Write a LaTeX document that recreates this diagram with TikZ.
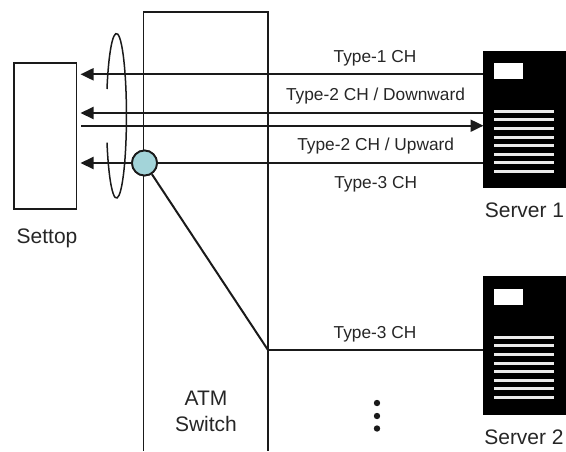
\documentclass[tikz,border=0pt]{standalone}
\usepackage{fontspec}
\setmainfont{Liberation Sans}
\usetikzlibrary{arrows.meta,calc}
\definecolor{ink}{HTML}{1A1A1A}
\definecolor{txt}{HTML}{262626}
\definecolor{hubfill}{HTML}{A3D4D9}
\tikzset{
  px/.style={x=1pt,y=-1pt},
  box/.style={draw=ink,line width=1.8pt,fill=white,inner sep=0pt,outer sep=0pt,minimum width=#1},
  wire/.style={draw=ink,line width=2pt},
  tipped/.style={wire,-{Triangle[length=13pt,width=12pt]},shorten >=-0.5pt},
  chlabel/.style={anchor=base,text=txt,font=\fontsize{17.3}{20}\selectfont,inner sep=0pt},
  biglabel/.style={anchor=base,text=txt,font=\fontsize{21}{24}\selectfont,inner sep=0pt},
  srv/.style={fill=black,inner sep=0pt,outer sep=0pt,minimum width=83pt,minimum height=#1},
  winbar/.style={fill=white,inner sep=0pt,outer sep=0pt,minimum width=29pt,minimum height=16pt},
  slat/.style={fill=white!92!black,inner sep=0pt,outer sep=0pt,minimum width=60pt,minimum height=3pt},
  hubdot/.style={circle,draw=ink,line width=1.8pt,fill=hubfill,inner sep=0pt,minimum size=25pt},
  pdot/.style={circle,fill=ink,inner sep=0pt,minimum size=6.4pt},
}
\begin{document}
\begin{tikzpicture}[px]
\useasboundingbox (0,0) rectangle (566,451);
% switch body, open at the foot
\node[inner sep=0pt,outer sep=0pt,minimum width=124.5pt,minimum height=438.5pt] (switch) at (205.75,231.25) {};
\draw[wire,line width=1.8pt] (switch.south west) -- (switch.north west) -- (switch.north east) -- (switch.south east);
% settop
\node[box=62.5pt,minimum height=146pt] (settop) at (45.25,136) {};
% servers
\node[srv=137.5pt] (server1) at (524.5,119.25) {};
\node[srv=139pt] (server2) at (524.5,345.5) {};
\node[winbar] (win1) at (508.5,71) {};
\node[winbar] (win2) at (508.5,297) {};
\foreach \i/\y in {1/111,2/119.7,3/128.3,4/137,5/145.5,6/154.2,7/162.8,8/171.5}
  \node[slat] (sa\i) at (524,\y) {};
\foreach \i/\y in {1/337,2/345.7,3/354.3,4/363,5/371.5,6/380.2,7/388.8,8/397.5}
  \node[slat] (sb\i) at (524,\y) {};
% hub and junction
\node[hubdot] (hub) at (144.5,163) {};
\coordinate (bend) at (268,350);
% free ends
\coordinate (a1) at (81,74.3);
\coordinate (a2) at (81,113);
\coordinate (a3) at (81,125.7);
\coordinate (a4) at (81,163);
\coordinate (b1) at (server1.west |- a1);
\coordinate (b2) at (server1.west |- a2);
\coordinate (b3) at (server1.west |- a3);
\coordinate (b4) at (server1.west |- a4);
% connectors
\draw[tipped] (b1) -- (a1);
\draw[tipped] (b2) -- (a2);
\draw[tipped] (a3) -- (b3);
\draw[tipped] (hub) -- (a4);
\draw[wire] (hub) -- (b4);
\draw[wire] (hub) -- (bend);
\draw[wire] (bend) -- (bend -| server2.west);
% twist loop
\draw[draw=ink,line width=1.5pt] (107,89) arc[start angle=-161,end angle=161,x radius=10,y radius=82.3];
% hub on top
\node[hubdot] (hubtop) at (hub) {};
% dots
\node[pdot] (d1) at (377,403) {};
\node[pdot] (d2) at (377,416) {};
\node[pdot] (d3) at (377,428.5) {};
% labels
\node[chlabel] (t1) at (375,62.7) {Type-1 CH};
\node[chlabel] (t2) at (375.5,100) {Type-2 CH / Downward};
\node[chlabel] (t3) at (375.7,150) {Type-2 CH / Upward};
\node[chlabel] (t4) at (375.7,188.7) {Type-3 CH};
\node[chlabel] (t5) at (375,338) {Type-3 CH};
\node[biglabel] (l1) at (47,243.5) {Settop};
\node[biglabel] (l2) at (206,405.5) {ATM};
\node[biglabel] (l3) at (206,431.5) {Switch};
\node[biglabel] (l4) at (524.5,217.5) {Server 1};
\node[biglabel] (l5) at (524,444.5) {Server 2};
\end{tikzpicture}
\end{document}
